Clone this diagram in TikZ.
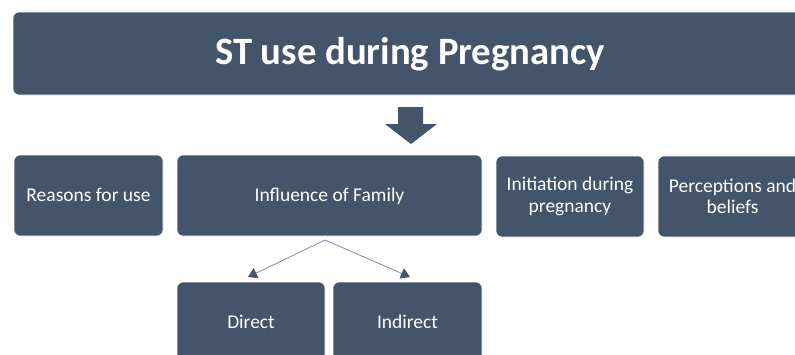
\documentclass[tikz,border=0pt]{standalone}
\usepackage{fontspec}
\setmainfont{Carlito}
\usetikzlibrary{arrows.meta}
\definecolor{slate}{HTML}{44546A}
\definecolor{slateline}{HTML}{8C99AC}
\tikzset{
  card/.style={rectangle, rounded corners=6pt, fill=slate, draw=white, line width=0.6pt,
    text=white, align=center, inner sep=0pt, minimum height=81pt,
    font=\fontsize{19.5}{21.5}\selectfont},
  oneline/.style={text height=16pt, text depth=3.5pt},
  branch/.style={draw=slateline, line width=0.9pt,
    -{Triangle[length=9pt,width=11pt,color=slate]}}
}
\begin{document}
\begin{tikzpicture}[x=1pt,y=-1pt]
\path[use as bounding box, clip] (0,0) rectangle (795,354);
\fill[white] (0,0) rectangle (795,354);

% title banner
\node[card, minimum width=794pt, minimum height=83pt] (title) at (410,53.5) {};
\node[text=white, font=\fontsize{38.7}{42}\selectfont\bfseries, inner sep=0pt,
      text height=26pt, text depth=9pt] (titletext) at (410,56) {ST use during Pregnancy};

% block arrow under the banner
\fill[slate] (398,107) -- (423,107) -- (423,124) -- (437,124) -- (411,144)
  -- (385,124) -- (398,124) -- cycle;

% first row of topics
\node[card, oneline, minimum width=149pt] (reasons) at (88.5,195.5) {Reasons for use};
\node[card, oneline, minimum width=305pt] (family) at (329.5,195.5) {Influence of Family};
\node[card, minimum width=148pt] (initiation) at (570,196.5) {Initiation during\\pregnancy};
\node[card, minimum width=149pt] (perceptions) at (732.5,196.5) {Perceptions and\\beliefs};

% family sub-topics
\node[card, oneline, minimum width=148pt] (direct) at (251,322.5) {Direct};
\node[card, oneline, minimum width=149pt] (indirect) at (407.5,322.5) {Indirect};

\coordinate (split) at (325,240);
\coordinate (dtip) at (248,277);
\coordinate (itip) at (410,277);
\draw[branch] (split) -- (dtip);
\draw[branch] (split) -- (itip);
\end{tikzpicture}
\end{document}
